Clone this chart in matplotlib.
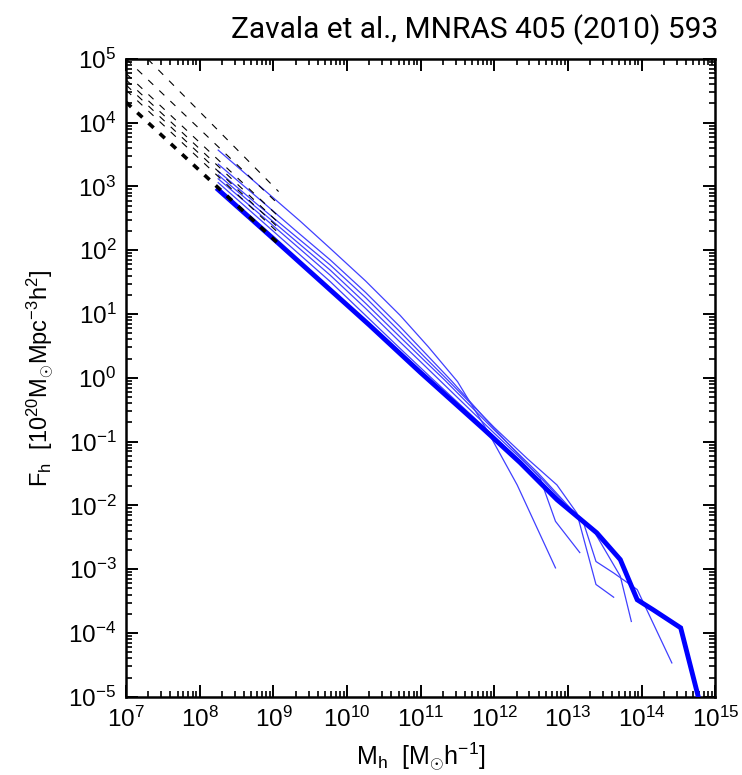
import numpy as np
import matplotlib
matplotlib.use('Agg')
import matplotlib.pyplot as plt
from matplotlib.ticker import LogLocator, NullFormatter

plt.rcParams['font.family'] = ['Liberation Sans', 'DejaVu Sans']
plt.rcParams['mathtext.fontset'] = 'custom'
plt.rcParams['mathtext.rm'] = 'Liberation Sans'
plt.rcParams['mathtext.it'] = 'Liberation Sans'
plt.rcParams['mathtext.bf'] = 'Liberation Sans:bold'
plt.rcParams['lines.scale_dashes'] = False

# log10(M_h) and log10(F_h) of the main (thick) curve
thick_logm = [8.25, 9.00, 9.77, 10.30, 11.00, 11.85, 12.35, 12.85, 13.39, 13.71, 13.94, 14.16, 14.53, 14.78]
thick_logf = [2.95, 2.18, 1.38, 0.83, 0.08, -0.80, -1.33, -1.91, -2.43, -2.85, -3.48, -3.64, -3.92, -5.05]

# thin curves, one list per curve
thin_logm = [
    [8.25, 8.80, 9.36, 9.77, 10.25, 10.72, 11.10, 11.50, 11.90, 12.31, 12.83],
    [8.25, 8.80, 9.30, 9.77, 10.25, 10.72, 11.05, 11.42, 12.00, 12.62, 12.83, 13.16],
    [8.25, 8.80, 9.30, 9.77, 10.25, 10.72, 11.05, 11.38, 12.00, 12.45, 12.85, 13.12, 13.38, 13.62],
    [8.25, 8.80, 9.30, 9.77, 10.25, 10.72, 11.05, 11.33, 12.00, 12.60, 13.21, 13.38, 13.62, 13.94, 14.41],
    [8.25, 8.80, 9.30, 9.77, 10.25, 10.72, 11.00, 11.25, 12.00, 12.60, 13.00, 13.35, 13.71, 13.86],
    [8.25, 8.80, 9.30, 9.77, 10.25, 10.72, 11.18, 12.00, 12.85, 13.39, 13.71, 13.94, 14.16],
]
thin_logf = [
    [3.57, 3.02, 2.46, 2.03, 1.52, 0.98, 0.49, -0.06, -0.82, -1.68, -2.98],
    [3.35, 2.81, 2.31, 1.85, 1.34, 0.80, 0.40, -0.05, -0.80, -1.57, -2.25, -2.74],
    [3.24, 2.70, 2.22, 1.77, 1.26, 0.72, 0.33, -0.05, -0.78, -1.27, -1.68, -2.12, -3.24, -3.44],
    [3.18, 2.64, 2.15, 1.69, 1.17, 0.64, 0.27, -0.04, -0.82, -1.50, -2.27, -2.88, -3.06, -3.32, -4.47],
    [3.12, 2.58, 2.08, 1.61, 1.09, 0.56, 0.25, -0.03, -0.87, -1.53, -2.03, -2.40, -3.11, -3.82],
    [3.06, 2.50, 1.99, 1.51, 0.98, 0.46, -0.04, -0.92, -1.88, -2.41, -2.84, -3.46, -3.63],
]

# power-law extrapolations to low masses (end points, log10)
fit_logm = [7.0, 9.07]
fit_logf = [
    [5.34, 2.92],
    [5.00, 2.72],
    [4.77, 2.53],
    [4.67, 2.43],
    [4.59, 2.35],
    [4.51, 2.27],
]
fit_thick_logf = [4.32, 2.10]

fig = plt.figure(figsize=(7.42, 7.75), dpi=100)
ax = fig.add_axes([0.170, 0.101, 0.794, 0.823])

for lm, lf in zip(thin_logm, thin_logf):
    ax.plot(10.0 ** np.array(lm), 10.0 ** np.array(lf), color=(0.25, 0.25, 1.0), lw=0.9, zorder=2)
ax.plot(10.0 ** np.array(thick_logm), 10.0 ** np.array(thick_logf), color=(0, 0, 1), lw=3.5,
        solid_joinstyle='miter', zorder=3)

fm = 10.0 ** np.array(fit_logm)
for lf in fit_logf:
    ax.plot(fm, 10.0 ** np.array(lf), color='black', lw=0.8, dashes=(5, 6), zorder=4)
ax.plot(fm, 10.0 ** np.array(fit_thick_logf), color='black', lw=2.6, dashes=(5, 6), zorder=4)

ax.set_xscale('log')
ax.set_yscale('log')
ax.set_xlim(1e7, 1e15)
ax.set_ylim(1e-5, 1e5)

ax.xaxis.set_major_locator(LogLocator(base=10, numticks=20))
ax.yaxis.set_major_locator(LogLocator(base=10, numticks=20))
ax.xaxis.set_minor_locator(LogLocator(base=10, subs=np.arange(2, 10), numticks=100))
ax.yaxis.set_minor_locator(LogLocator(base=10, subs=np.arange(2, 10), numticks=100))
ax.xaxis.set_minor_formatter(NullFormatter())
ax.yaxis.set_minor_formatter(NullFormatter())

ax.tick_params(which='both', direction='in', top=True, right=True, labelsize=17.5)
ax.tick_params(which='major', length=8.5, width=1.4, pad=7)
ax.tick_params(which='minor', length=4.5, width=1.2)
for sp in ax.spines.values():
    sp.set_linewidth(1.8)

ax.set_xlabel(r'$\mathrm{M_h\ \ [M_{\odot}h^{-1}]}$', fontsize=18, labelpad=6)
ax.set_ylabel(r'$\mathrm{F_h\ \ [10^{20}M_{\odot}Mpc^{-3}h^{2}]}$', fontsize=17, labelpad=9)

fig.text(0.64, 0.962, 'Zavala et al., MNRAS 405 (2010) 593', fontsize=21.5, color='black',
         family=['Roboto', 'DejaVu Sans'], ha='center', va='center')

fig.savefig('out.png', dpi=100)
